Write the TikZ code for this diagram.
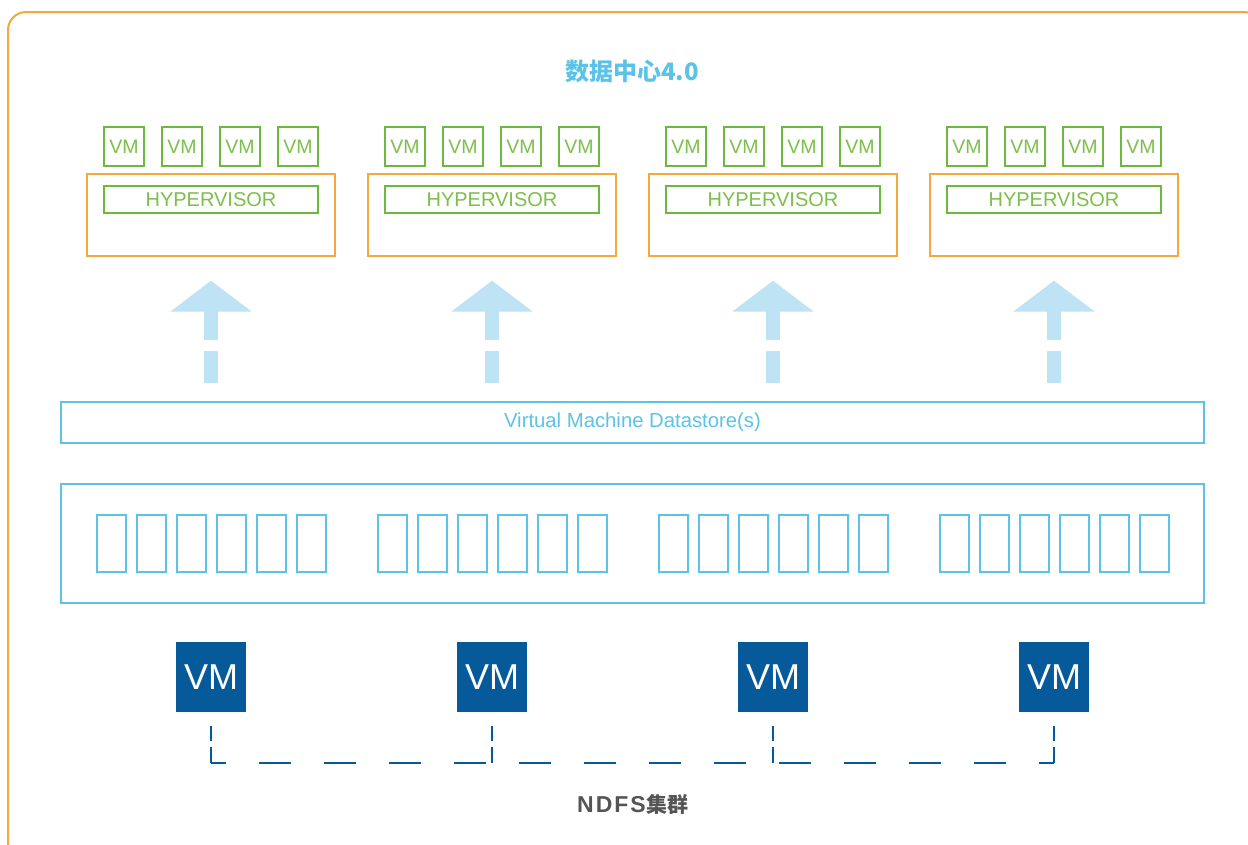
\documentclass[tikz,border=0pt]{standalone}
\usepackage{fontspec}
\setmainfont{Liberation Sans}
\newfontfamily\cjk{Noto Sans CJK SC}
\usetikzlibrary{arrows.meta}

\definecolor{frameorange}{HTML}{F5A83C}
\definecolor{vmgreen}{HTML}{6DB83F}
\definecolor{vmgreentext}{HTML}{7CBF4A}
\definecolor{skyline}{HTML}{5BC3E8}
\definecolor{arrowblue}{HTML}{BEE3F4}
\definecolor{vmnavy}{HTML}{075A9A}
\definecolor{labelgray}{HTML}{555555}

\tikzset{
  every node/.style={inner sep=0pt, outer sep=0pt},
  outerframe/.style={draw=frameorange, line width=2pt, rounded corners=18pt},
  hostbox/.style={draw=frameorange, line width=1.8pt, minimum width=248pt, minimum height=81.7pt},
  guestvm/.style={draw=vmgreen, line width=2pt, minimum width=39.5pt, minimum height=39pt,
    text=vmgreentext, font=\fontsize{19.5}{20}\selectfont},
  hyperbar/.style={draw=vmgreen, line width=2pt, minimum width=213.5pt, minimum height=27pt,
    text=vmgreentext, font=\fontsize{20}{20}\selectfont},
  uparrow/.style={draw=arrowblue, line width=14pt, dash pattern=on 32pt off 11pt on 60pt,
    -{Triangle[width=80pt,length=31pt]}},
  storebar/.style={draw=skyline, line width=2pt, minimum width=1143pt, minimum height=41pt,
    text=skyline, font=\fontsize{20.3}{21}\selectfont},
  poolbox/.style={draw=skyline, line width=2pt, minimum width=1143pt, minimum height=119.3pt},
  tofu/.style={draw=skyline, line width=1.8pt, minimum width=28.6pt, minimum height=56.7pt},
  clustervm/.style={fill=vmnavy, minimum width=70pt, minimum height=70pt,
    text=white, font=\fontsize{36}{36}\selectfont},
  clusterlink/.style={draw=vmnavy, line width=2.5pt},
  titletext/.style={text=skyline, font=\cjk\bfseries\fontsize{24}{24}\selectfont},
  footertext/.style={text=labelgray, font=\bfseries\fontsize{23}{23}\selectfont},
}

\begin{document}
\begin{tikzpicture}[x=1pt, y=-1pt]
  \useasboundingbox (0,0) rectangle (1248,844);
  \fill[white] (0,0) rectangle (1248,844);

  % rounded outer frame, running off the right and bottom edges
  \draw[outerframe] (8,12) rectangle (1262,862);

  \node[titletext] (title) at (632,71) {数据中心4.0};

  % four hosts: hypervisor box with four guest VMs on top
  \foreach \i in {0,1,2,3} {
    \node[hostbox] (hv\i) at ({211+281*\i},214.85) {};
    \node[hyperbar] (hb\i) at ({211+281*\i},199.2) {HYPERVISOR};
    \foreach \k in {0,1,2,3} {
      \node[guestvm] (g\i\k) at ({124+58*\k+281*\i},146.5) {VM};
    }
  }

  % shared datastore and storage pool
  \node[storebar] (ds) at (632.5,422.3) {Virtual Machine Datastore(s)};
  \node[poolbox] (pool) at (632.5,543.6) {};
  \foreach \i in {0,1,2,3} {
    \foreach \k in {0,...,5} {
      \node[tofu] (t\i\k) at ({111.3+40*\k+281*\i},543.3) {};
    }
  }

  % datastore feeding each host
  \foreach \i in {0,1,2,3} {
    \path (ds.north -| hv\i.south) coordinate (ab\i);
    \draw[uparrow] ([yshift=19pt]ab\i) -- ([yshift=-25pt]hv\i.south);
  }

  % NDFS cluster VMs and their dashed interconnect
  \foreach \i in {0,1,2,3} {
    \node[clustervm] (c\i) at ({211+281*\i},677) {VM};
    \coordinate (j\i) at ({211+281*\i},763);
    \draw[clusterlink, dash pattern=on 0pt off 14pt on 15pt off 6pt on 17pt] (c\i.south) -- (j\i);
  }
  \draw[clusterlink, dash pattern=on 32pt off 33pt, dash phase=17pt] (j0) -- (j3);

  \node[footertext] (footer) at (633,804)
    {N\kern2pt D\kern2pt F\kern2pt S\kern1pt{\cjk\fontsize{21}{21}\selectfont 集群}};
\end{tikzpicture}
\end{document}
